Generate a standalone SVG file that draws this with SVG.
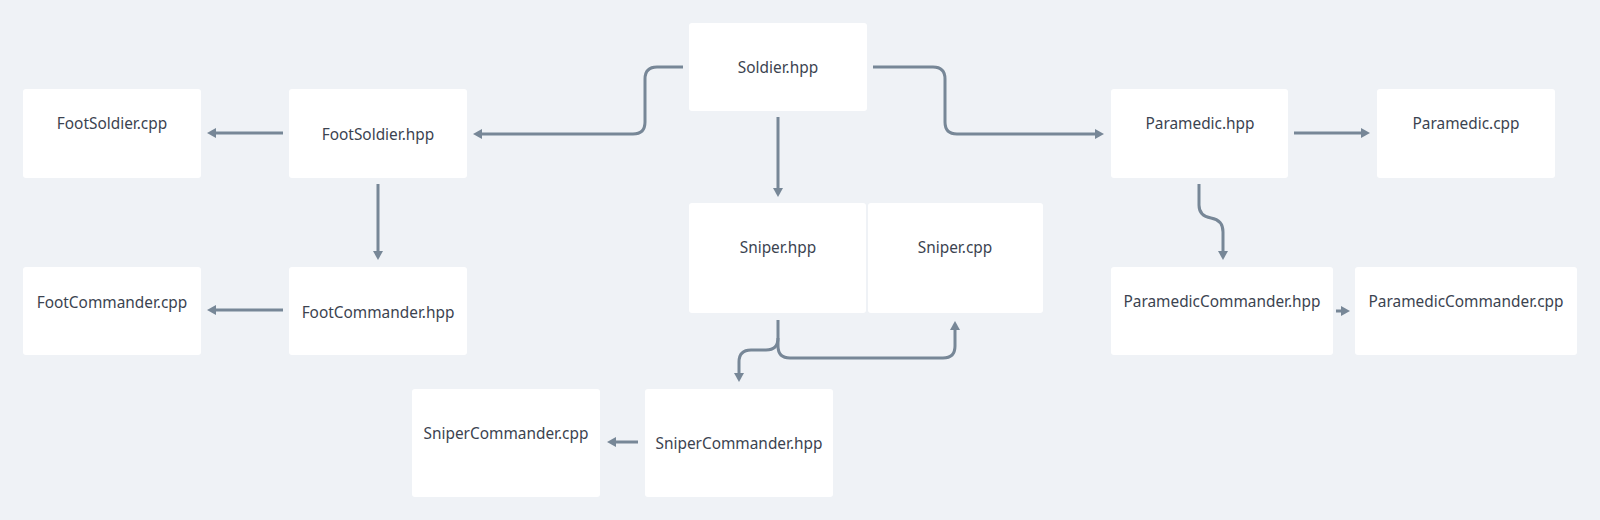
<svg xmlns="http://www.w3.org/2000/svg" width="1600" height="520" viewBox="0 0 1600 520">
<defs>
<style>
.n rect{fill:#ffffff;}
.n text{font-family:"Noto Sans","DejaVu Sans",sans-serif;font-size:15.4px;fill:#3b4350;text-anchor:middle;dominant-baseline:central;}
.c path{fill:none;stroke:#778797;stroke-width:3;}
</style>
<marker id="ah" viewBox="0 0 9 10" refX="1" refY="5" markerWidth="9" markerHeight="11" markerUnits="userSpaceOnUse" orient="auto">
<path d="M0,0 L9,5 L0,10 z" fill="#778797"/>
</marker>
</defs>
<rect width="1600" height="520" fill="#eff2f6"/>
<g id="connectors" class="c">
<path d="M683 67 H657 Q645 67 645 79 V122 Q645 134 633 134 H481" marker-end="url(#ah)"/>
<path d="M873 67 H933 Q945 67 945 79 V122 Q945 134 957 134 H1096" marker-end="url(#ah)"/>
<path d="M778 117 V189" marker-end="url(#ah)"/>
<path d="M283 133 H215" marker-end="url(#ah)"/>
<path d="M378 184 V252" marker-end="url(#ah)"/>
<path d="M283 310 H215" marker-end="url(#ah)"/>
<path d="M1294 133 H1362" marker-end="url(#ah)"/>
<path d="M1199 184 V205 Q1199 216 1211 218 Q1223 220 1223 232 V252" marker-end="url(#ah)"/>
<path d="M1336 311 H1342" marker-end="url(#ah)"/>
<path d="M778 320 V346 Q778 358 790 358 H943 Q955 358 955 346 V329" marker-end="url(#ah)"/>
<path d="M778 338 Q778 350 766 350 H751 Q739 350 739 362 V374" marker-end="url(#ah)"/>
<path d="M638 442 H615" marker-end="url(#ah)"/>
</g>
<g id="soldier_hpp" class="n"><rect x="689" y="23" width="178" height="88" rx="3"/><text x="778" y="67">Soldier.hpp</text></g>
<g id="footsoldier_cpp" class="n"><rect x="23" y="89" width="178" height="89" rx="3"/><text x="112" y="123">FootSoldier.cpp</text></g>
<g id="footsoldier_hpp" class="n"><rect x="289" y="89" width="178" height="89" rx="3"/><text x="378" y="134">FootSoldier.hpp</text></g>
<g id="footcommander_cpp" class="n"><rect x="23" y="267" width="178" height="88" rx="3"/><text x="112" y="302">FootCommander.cpp</text></g>
<g id="footcommander_hpp" class="n"><rect x="289" y="267" width="178" height="88" rx="3"/><text x="378" y="312">FootCommander.hpp</text></g>
<g id="sniper_hpp" class="n"><rect x="689" y="203" width="177" height="110" rx="3"/><text x="778" y="247">Sniper.hpp</text></g>
<g id="sniper_cpp" class="n"><rect x="868" y="203" width="175" height="110" rx="3"/><text x="955" y="247">Sniper.cpp</text></g>
<g id="snipercommander_cpp" class="n"><rect x="412" y="389" width="188" height="108" rx="3"/><text x="506" y="433">SniperCommander.cpp</text></g>
<g id="snipercommander_hpp" class="n"><rect x="645" y="389" width="188" height="108" rx="3"/><text x="739" y="443">SniperCommander.hpp</text></g>
<g id="paramedic_hpp" class="n"><rect x="1111" y="89" width="177" height="89" rx="3"/><text x="1200" y="123">Paramedic.hpp</text></g>
<g id="paramedic_cpp" class="n"><rect x="1377" y="89" width="178" height="89" rx="3"/><text x="1466" y="123">Paramedic.cpp</text></g>
<g id="paramediccommander_hpp" class="n"><rect x="1111" y="267" width="222" height="88" rx="3"/><text x="1222" y="301">ParamedicCommander.hpp</text></g>
<g id="paramediccommander_cpp" class="n"><rect x="1355" y="267" width="222" height="88" rx="3"/><text x="1466" y="301">ParamedicCommander.cpp</text></g>
</svg>
